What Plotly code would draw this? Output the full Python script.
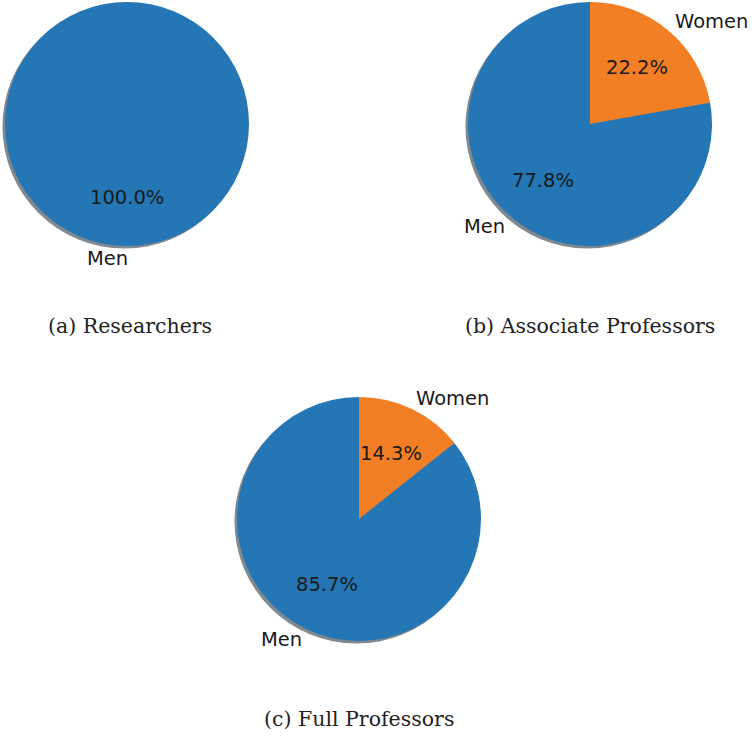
import math
import plotly.graph_objects as go

# Gender split per academic rank
groups = ["Researchers", "Associate Professors", "Full Professors"]
captions = ["(a) Researchers", "(b) Associate Professors", "(c) Full Professors"]
labels = ["Men", "Women"]
men_share = [100.0, 77.8, 85.7]
women_share = [0.0, 22.2, 14.3]

COLORS = ["#2477b4", "#f27f26"]
SHADOW = "rgb(128,136,144)"

W, H = 752, 736
R = 122  # pie radius in px
centers = [(127, 124), (590, 124), (359, 519)]
caption_pos = [(130, 326), (590, 326), (359, 719)]
SHADOW_OFF = 2.5
LABEL_PAD = 3  # compensates the annotation box padding


def px(x):
    return x / W


def py(y):
    return 1 - y / H


fig = go.Figure()
annotations = []

for i, g in enumerate(groups):
    cx, cy = centers[i]
    vals = [men_share[i], women_share[i]]
    labs = [l for l, v in zip(labels, vals) if v > 0]
    vals_nz = [v for v in vals if v > 0]
    cols = [c for c, v in zip(COLORS, vals) if v > 0]

    # drop shadow, offset left and down
    sx, sy = cx - SHADOW_OFF, cy + SHADOW_OFF
    fig.add_trace(go.Pie(
        values=[sum(vals_nz)], labels=[g + " shadow"], sort=False,
        marker=dict(colors=[SHADOW], line=dict(width=0)),
        textinfo="none", hoverinfo="skip", showlegend=False,
        domain=dict(x=[px(sx - R), px(sx + R)], y=[py(sy + R), py(sy - R)]),
    ))

    # wedges run counterclockwise from 12 o'clock: Men first, then Women.
    # Plotly starts its first slice at 12 o'clock, so feed the slices in
    # reverse order and lay them out clockwise.
    fig.add_trace(go.Pie(
        values=vals_nz[::-1], labels=labs[::-1], sort=False,
        direction="clockwise", rotation=0,
        marker=dict(colors=cols[::-1], line=dict(width=0)),
        textinfo="none", showlegend=False, name=g,
        domain=dict(x=[px(cx - R), px(cx + R)], y=[py(cy + R), py(cy - R)]),
    ))

    total = sum(vals_nz)
    cum = 0.0
    for lab, v in zip(labs, vals_nz):
        theta = math.radians(90 + 360 * (cum + v / 2) / total)
        c, s = math.cos(theta), math.sin(theta)
        # percentage inside the wedge
        annotations.append(dict(
            x=px(cx + 0.6 * R * c), y=py(cy - 0.6 * R * s),
            xref="paper", yref="paper", text=f"{100 * v / total:.1f}%",
            showarrow=False, xanchor="center", yanchor="middle",
            font=dict(family="DejaVu Sans", size=19.5, color="#1a1a1a"),
        ))
        # category label outside the wedge
        right_side = c > 0
        annotations.append(dict(
            x=px(cx + 1.1 * R * c), y=py(cy - 1.1 * R * s),
            xref="paper", yref="paper", text=lab, showarrow=False,
            xanchor="left" if right_side else "right", yanchor="middle",
            xshift=-LABEL_PAD if right_side else LABEL_PAD,
            font=dict(family="DejaVu Sans", size=19.5, color="#1a1a1a"),
        ))
        cum += v

    qx, qy = caption_pos[i]
    annotations.append(dict(
        x=px(qx), y=py(qy), xref="paper", yref="paper", text=captions[i],
        showarrow=False, xanchor="center", yanchor="middle",
        font=dict(family="DejaVu Serif", size=20.5, color="#222222"),
    ))

fig.update_layout(
    width=W, height=H, margin=dict(l=0, r=0, t=0, b=0),
    paper_bgcolor="white", plot_bgcolor="white",
    annotations=annotations,
)

fig.write_html("out.html")
